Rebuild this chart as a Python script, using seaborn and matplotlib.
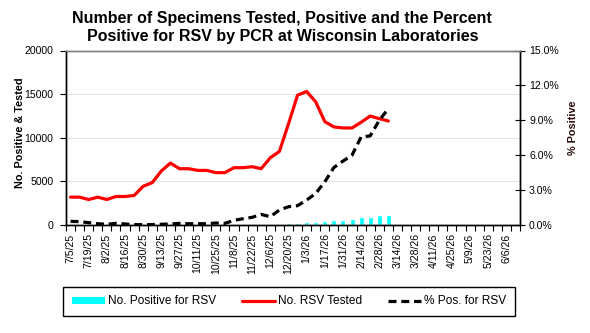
import numpy as np
import pandas as pd
import matplotlib
matplotlib.use("Agg")
import matplotlib.pyplot as plt
import seaborn as sns
from matplotlib.patches import Patch
from matplotlib.lines import Line2D

# ---------------- data ----------------
weeks = ["7/5/25", "7/12/25", "7/19/25", "7/26/25", "8/2/25", "8/9/25", "8/16/25",
         "8/23/25", "8/30/25", "9/6/25", "9/13/25", "9/20/25", "9/27/25", "10/4/25",
         "10/11/25", "10/18/25", "10/25/25", "11/1/25", "11/8/25", "11/15/25",
         "11/22/25", "11/29/25", "12/6/25", "12/13/25", "12/20/25", "12/27/25",
         "1/3/26", "1/10/26", "1/17/26", "1/24/26", "1/31/26", "2/7/26", "2/14/26",
         "2/21/26", "2/28/26", "3/7/26", "3/14/26", "3/21/26", "3/28/26", "4/4/26",
         "4/11/26", "4/18/26", "4/25/26", "5/2/26", "5/9/26", "5/16/26", "5/23/26",
         "5/30/26", "6/6/26", "6/13/26"]

tested = [3190, 3190, 2920, 3190, 2920, 3265, 3265, 3380, 4440, 4860,
          6190, 7100, 6450, 6450, 6260, 6260, 6000, 6000, 6570, 6570,
          6680, 6450, 7710, 8430, 11580, 14880, 15300, 14120, 11850, 11240,
          11120, 11120, 11770, 12490, 12190, 11920]

positive = [10, 9, 6, 3, 2, 5, 3, 1, 1, 1,
            4, 6, 9, 7, 7, 7, 10, 8, 26, 35,
            44, 59, 55, 109, 180, 255, 335, 370, 445, 560,
            600, 670, 900, 930, 1120, 1150]

pct_positive = [0.31, 0.29, 0.20, 0.11, 0.06, 0.14, 0.09, 0.03, 0.03, 0.03,
                0.06, 0.09, 0.14, 0.11, 0.11, 0.11, 0.17, 0.14, 0.40, 0.54,
                0.66, 0.91, 0.71, 1.29, 1.57, 1.66, 2.14, 2.71, 3.71, 4.94,
                5.49, 6.00, 7.57, 7.66, 9.00, 10.00]

left_ticks = [0, 5000, 10000, 15000, 20000]
right_ticks = [0, 3, 6, 9, 12, 15]

title_lines = ["Number of Specimens Tested, Positive and the Percent",
               "Positive for RSV by PCR at Wisconsin Laboratories"]
legend_labels = ["No. Positive for RSV", "No. RSV Tested", "% Pos. for RSV"]

# ---------------- frame ----------------
n = len(weeks)
m = len(tested)
pad = [np.nan] * (n - m)
df = pd.DataFrame({
    "x": np.arange(n),
    "week": weeks,
    "positive": positive + pad,
    "tested": tested + pad,
    "pct": pct_positive + pad,
})

sns.set_theme(style="ticks")
plt.rcParams["font.family"] = ["Liberation Sans", "DejaVu Sans"]
plt.rcParams["text.color"] = "black"
plt.rcParams["axes.labelcolor"] = "black"
plt.rcParams["xtick.color"] = "black"
plt.rcParams["ytick.color"] = "black"

W, H = 590, 333
fig = plt.figure(figsize=(W / 100, H / 100), dpi=100)
fig.patch.set_facecolor("white")
L, R, T, B = 66, 520, 50.5, 225
ax = fig.add_axes([L / W, 1 - B / H, (R - L) / W, (B - T) / H])

sns.barplot(data=df.dropna(), x="x", y="positive", native_scale=True,
            color="#00FFFF", saturation=1, width=0.55, errorbar=None,
            ax=ax, zorder=2)
sns.lineplot(data=df, x="x", y="tested", color="#FF0000", lw=2.3,
             ax=ax, zorder=3)

ax2 = ax.twinx()
sns.lineplot(data=df, x="x", y="pct", color="black", lw=2.3, ax=ax2, zorder=4)
ax2.lines[-1].set_dashes([2.5, 1.5])
ax2.lines[-1].set_dash_capstyle("butt")

# ---------------- axes ----------------
ax.set_xlim(-0.5, n - 0.5)
ax.set_ylim(0, 20000)
ax2.set_ylim(0, 15)

ax.set_yticks(left_ticks)
ax.set_yticklabels([str(v) for v in left_ticks])
ax2.set_yticks(right_ticks)
ax2.set_yticklabels([f"{v:.1f}%" for v in right_ticks])

ax.set_xticks(np.arange(0, n, 2))
ax.set_xticklabels(weeks[::2], rotation=90, fontsize=7.6)
ax.set_xticks(np.arange(-0.5, n, 1), minor=True)
ax.tick_params(axis="x", which="major", length=0, pad=6, colors="black")
ax.tick_params(axis="x", which="minor", length=4, width=0.8, color="black",
               bottom=True, direction="out")
ax.tick_params(axis="y", which="major", length=4, width=0.8, color="black",
               labelsize=7.6, pad=5, left=True, direction="out", labelcolor="black")
ax2.tick_params(axis="y", which="major", length=7, width=0.8, color="black",
                labelsize=7.6, pad=3, right=True, direction="inout", labelcolor="black")

ax.yaxis.grid(True, color="#e4e4e4", lw=0.8)
ax.xaxis.grid(False)
ax.set_axisbelow(True)

for a in (ax, ax2):
    a.set_xlabel("")
    for s in ("left", "right", "bottom"):
        a.spines[s].set_visible(True)
        a.spines[s].set_color("black")
        a.spines[s].set_linewidth(1.0)
    a.spines["top"].set_visible(True)
    a.spines["top"].set_color("#808080")
    a.spines["top"].set_linewidth(1.0)

ax.set_ylabel("No. Positive & Tested", fontsize=7.8, fontweight="bold", color="black")
ax.yaxis.set_label_coords(-0.0914, 0.531)
ax2.set_ylabel("% Positive", fontsize=7.8, fontweight="bold", color="#2a0a0a",
               rotation=90)
ax2.yaxis.set_label_coords(1.1057, 0.556)

# ---------------- title ----------------
fig.text(282 / W, 1 - 23.5 / H, title_lines[0], ha="center", va="baseline",
         fontsize=11.5, fontweight="bold", color="black")
fig.text(283 / W, 1 - 40.5 / H, title_lines[1], ha="center", va="baseline",
         fontsize=11.5, fontweight="bold", color="black")

# ---------------- legend ----------------
handles = [Patch(facecolor="#00FFFF", edgecolor="none"),
           Line2D([], [], color="#FF0000", lw=2.3),
           Line2D([], [], color="black", lw=2.3, dashes=[2.5, 1.5])]
leg = fig.legend(handles, legend_labels, ncol=3, loc="center",
                 bbox_to_anchor=(63 / W, 1 - 317 / H, 452 / W, 31 / H),
                 mode="expand", fontsize=8.6, frameon=True, fancybox=False,
                 framealpha=1, edgecolor="black", handlelength=2.8,
                 handletextpad=0.25, borderpad=0.72, borderaxespad=0,
                 handleheight=0.5)
leg.get_frame().set_linewidth(1.0)
for t in leg.get_texts():
    t.set_color("black")

fig.savefig("out.png", dpi=100, facecolor="white")
